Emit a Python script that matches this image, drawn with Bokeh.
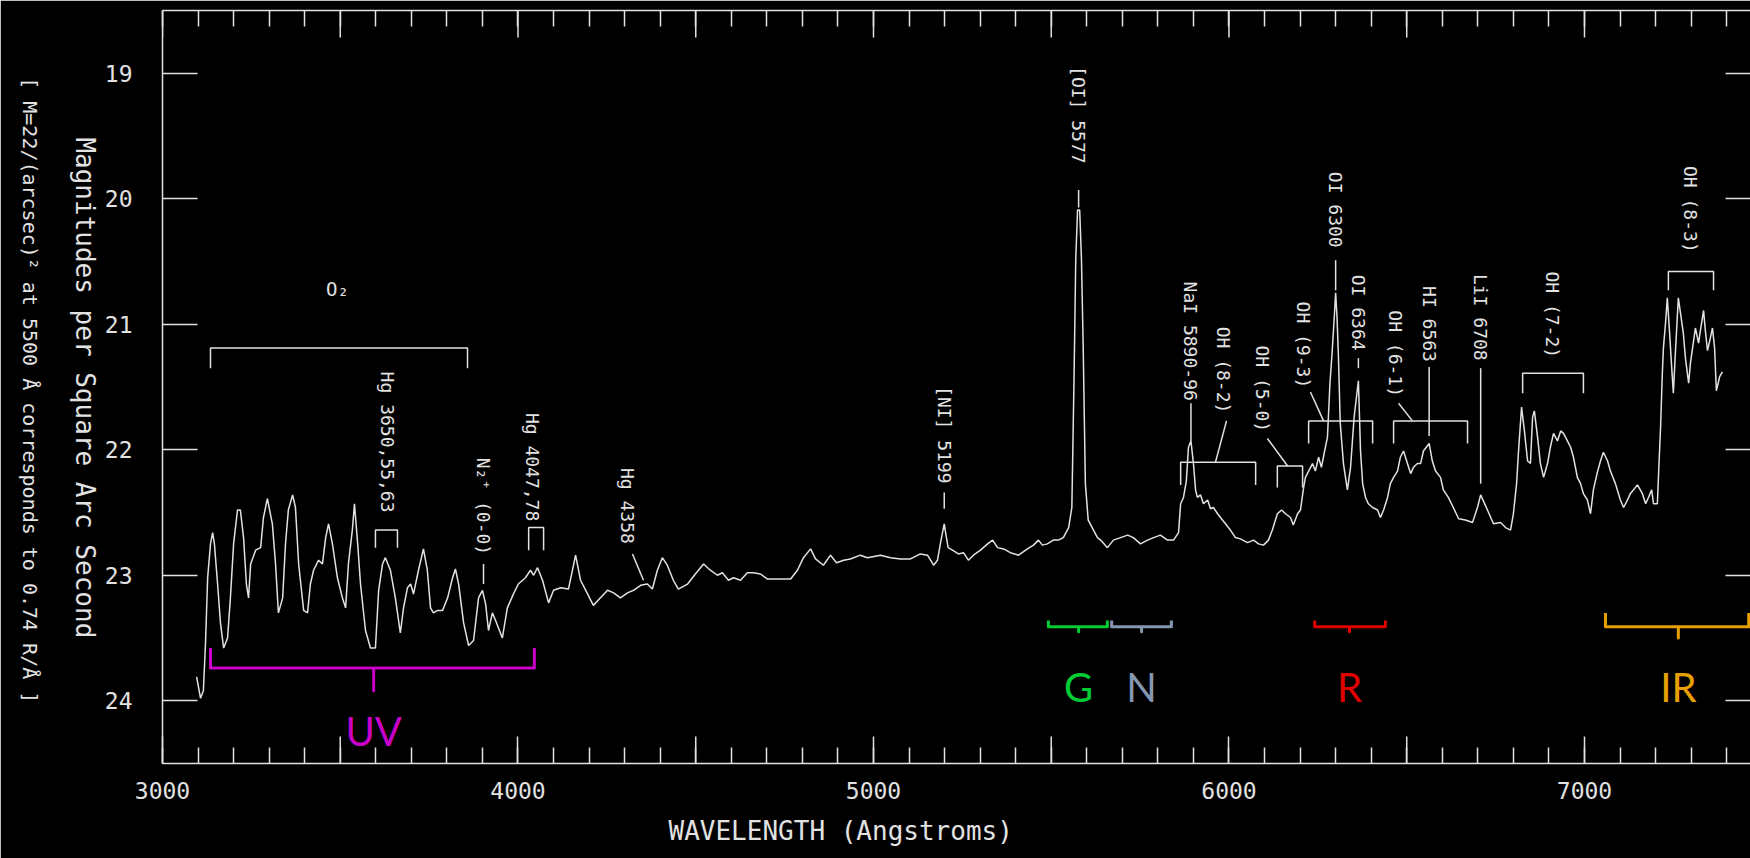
import math
from bokeh.plotting import figure
from bokeh.models import ColumnDataSource, Range1d, LinearAxis, FixedTicker, Title
from bokeh.core.properties import value
from bokeh.embed import file_html
from bokeh.resources import INLINE

# ---- night-sky spectrum: wavelength (Angstrom) and surface brightness (mag / arcsec^2)
WAVELENGTH = [
    3096, 3107, 3115, 3121, 3127, 3135, 3141, 3146, 3155, 3163, 3172, 3183, 3191, 3200,
    3211, 3219, 3228, 3236, 3242, 3248, 3262, 3276, 3284, 3295, 3309, 3318, 3326, 3338,
    3346, 3354, 3366, 3374, 3383, 3397, 3408, 3416, 3425, 3439, 3450, 3459, 3467, 3478,
    3492, 3506, 3515, 3523, 3534, 3540, 3549, 3557, 3571, 3585, 3599, 3608, 3619, 3627,
    3641, 3655, 3669, 3678, 3689, 3698, 3706, 3720, 3734, 3745, 3754, 3762, 3774, 3788,
    3802, 3816, 3824, 3833, 3847, 3861, 3875, 3889, 3900, 3909, 3917, 3928, 3937, 3956,
    3970, 3987, 4001, 4021, 4035, 4044, 4055, 4069, 4086, 4100, 4120, 4142, 4162, 4176,
    4196, 4212, 4232, 4252, 4269, 4288, 4308, 4325, 4345, 4364, 4378, 4392, 4406, 4420,
    4437, 4451, 4477, 4499, 4522, 4541, 4561, 4575, 4592, 4606, 4626, 4645, 4662, 4682,
    4702, 4719, 4738, 4767, 4786, 4803, 4823, 4837, 4859, 4879, 4896, 4916, 4935, 4963,
    4983, 5020, 5048, 5076, 5104, 5132, 5152, 5169, 5180, 5190, 5199, 5204, 5210, 5222,
    5239, 5253, 5267, 5281, 5301, 5321, 5335, 5349, 5366, 5385, 5408, 5433, 5450, 5464,
    5475, 5489, 5506, 5520, 5534, 5549, 5558, 5564, 5569, 5574, 5580, 5585, 5590, 5596,
    5604, 5630, 5639, 5658, 5675, 5695, 5715, 5731, 5751, 5771, 5788, 5807, 5827, 5844,
    5858, 5864, 5872, 5880, 5886, 5893, 5900, 5906, 5911, 5920, 5928, 5940, 5948, 5956,
    5968, 5976, 5990, 6004, 6018, 6032, 6052, 6069, 6083, 6097, 6111, 6122, 6136, 6148,
    6159, 6173, 6181, 6193, 6201, 6210, 6215, 6224, 6235, 6243, 6252, 6260, 6269, 6277,
    6284, 6290, 6296, 6300, 6304, 6308, 6313, 6322, 6333, 6342, 6352, 6364, 6370, 6376,
    6384, 6392, 6404, 6418, 6426, 6435, 6446, 6454, 6463, 6474, 6482, 6491, 6502, 6511,
    6519, 6530, 6539, 6547, 6563, 6572, 6581, 6595, 6603, 6617, 6631, 6646, 6665, 6685,
    6699, 6708, 6727, 6744, 6764, 6778, 6792, 6800, 6809, 6814, 6823, 6831, 6840, 6848,
    6854, 6859, 6868, 6876, 6885, 6896, 6904, 6913, 6924, 6933, 6941, 6952, 6961, 6969,
    6980, 6989, 6997, 7008, 7017, 7025, 7037, 7045, 7053, 7065, 7073, 7087, 7101, 7110,
    7121, 7129, 7149, 7163, 7172, 7180, 7189, 7194, 7205, 7208, 7214, 7219, 7222, 7228,
    7233, 7239, 7245, 7250, 7256, 7264, 7270, 7278, 7284, 7293, 7298, 7307, 7312, 7321,
    7326, 7335, 7340, 7346, 7354, 7360, 7366, 7371, 7380, 7388,
]
MAGNITUDE = [
    23.81, 23.98, 23.92, 23.54, 23.02, 22.75, 22.66, 22.75, 23.07, 23.38, 23.58, 23.50, 23.18, 22.75,
    22.48, 22.48, 22.70, 23.07, 23.18, 22.91, 22.80, 22.78, 22.54, 22.39, 22.59, 22.91, 23.30, 23.18,
    22.75, 22.48, 22.36, 22.46, 22.91, 23.28, 23.30, 23.07, 22.96, 22.88, 22.91, 22.70, 22.59, 22.75,
    23.02, 23.18, 23.26, 22.91, 22.64, 22.43, 22.75, 23.07, 23.44, 23.58, 23.58, 23.12, 22.91, 22.86,
    22.96, 23.18, 23.46, 23.26, 23.10, 23.07, 23.15, 22.96, 22.79, 22.96, 23.26, 23.30, 23.28, 23.28,
    23.18, 23.02, 22.95, 23.07, 23.38, 23.56, 23.52, 23.18, 23.12, 23.23, 23.44, 23.30, 23.36, 23.50,
    23.26, 23.15, 23.07, 23.02, 22.96, 23.00, 22.94, 23.04, 23.22, 23.12, 23.10, 23.11, 22.84, 23.04,
    23.15, 23.24, 23.18, 23.12, 23.14, 23.18, 23.14, 23.12, 23.08, 23.07, 23.11, 22.96, 22.86, 22.92,
    23.04, 23.11, 23.07, 22.99, 22.91, 22.96, 23.00, 22.98, 23.04, 23.02, 23.04, 22.98, 22.98, 22.99,
    23.03, 23.03, 23.03, 23.03, 22.96, 22.86, 22.79, 22.87, 22.92, 22.84, 22.90, 22.88, 22.87, 22.84,
    22.86, 22.84, 22.86, 22.87, 22.87, 22.83, 22.84, 22.92, 22.88, 22.72, 22.59, 22.68, 22.78, 22.80,
    22.83, 22.82, 22.88, 22.84, 22.80, 22.75, 22.72, 22.78, 22.79, 22.82, 22.84, 22.79, 22.76, 22.72,
    22.76, 22.75, 22.72, 22.72, 22.70, 22.62, 22.46, 21.45, 20.48, 20.09, 20.09, 20.48, 21.20, 22.27,
    22.56, 22.70, 22.72, 22.78, 22.72, 22.70, 22.68, 22.70, 22.75, 22.72, 22.70, 22.68, 22.72, 22.72,
    22.66, 22.43, 22.38, 22.25, 21.98, 21.93, 22.11, 22.32, 22.38, 22.36, 22.43, 22.40, 22.47, 22.46,
    22.51, 22.54, 22.59, 22.64, 22.70, 22.71, 22.74, 22.72, 22.75, 22.76, 22.72, 22.64, 22.51, 22.48,
    22.51, 22.54, 22.60, 22.51, 22.48, 22.30, 22.22, 22.17, 22.11, 22.17, 22.06, 22.14, 22.01, 21.90,
    21.47, 21.23, 20.95, 20.75, 20.95, 21.27, 21.79, 22.11, 22.32, 22.14, 21.74, 21.45, 22.01, 22.27,
    22.38, 22.43, 22.46, 22.48, 22.54, 22.48, 22.38, 22.27, 22.22, 22.17, 22.06, 22.01, 22.11, 22.19,
    22.14, 22.11, 22.11, 22.01, 21.95, 22.09, 22.17, 22.22, 22.32, 22.38, 22.46, 22.55, 22.56, 22.58,
    22.46, 22.36, 22.48, 22.59, 22.58, 22.62, 22.64, 22.51, 22.27, 22.03, 21.66, 21.85, 22.09, 22.11,
    21.74, 21.69, 21.90, 22.11, 22.22, 22.11, 21.98, 21.87, 21.93, 21.85, 21.87, 21.93, 21.98, 22.06,
    22.22, 22.27, 22.35, 22.40, 22.51, 22.32, 22.17, 22.09, 22.02, 22.09, 22.17, 22.27, 22.40, 22.46,
    22.40, 22.35, 22.28, 22.35, 22.43, 22.38, 22.32, 22.43, 22.43, 22.22, 21.82, 21.39, 21.19, 20.99,
    20.79, 21.05, 21.33, 21.55, 21.21, 20.79, 20.91, 21.07, 21.27, 21.47, 21.31, 21.13, 21.03, 21.15,
    21.05, 20.89, 21.05, 21.21, 21.11, 21.03, 21.19, 21.53, 21.42, 21.38,
]

# ---- axis ticks
X_LABELLED = [3000, 4000, 5000, 6000, 7000]
X_HALF = [3500, 4500, 5500, 6500]
X_MINOR = list(range(3000, 7500, 100))
Y_TICKS = [19, 20, 21, 22, 23, 24]
LONG_TICK = 0.215          # length of the 500 A ticks, in magnitudes

# ---- line identifications (vertical text, anchored at the lower end of the text)
LINE_NAMES = ["Hg 3650,55,63", "N\u2082\u207a (0-0)", "Hg 4047,78", "Hg 4358", "[NI] 5199",
              "[OI] 5577", "NaI 5890-96", "OH (8-2)", "OH (5-0)", "OH (9-3)", "OI 6300",
              "OI 6364", "OH (6-1)", "HI 6563", "LiI 6708", "OH (7-2)", "OH (8-3)"]
LINE_WAVE = [3633, 3903, 4040, 4308, 5199, 5577, 5893, 5985, 6094, 6210, 6300,
             6364, 6468, 6563, 6708, 6910, 7298]
LINE_TEXT_END = [22.50, 22.84, 22.57, 22.75, 22.27, 19.72, 21.61, 21.71, 21.86, 21.51, 20.39,
                 21.21, 21.58, 21.30, 21.29, 21.27, 20.43]

# short vertical markers under some labels
MARK_WAVE = [3903, 5199, 5577, 5893, 6300, 6364, 6563, 6708]
MARK_FROM = [22.91, 22.34, 19.93, 21.63, 20.49, 21.27, 21.34, 21.35]
MARK_TO = [23.07, 22.47, 20.07, 21.93, 20.73, 21.35, 21.89, 22.27]

# slanted leaders from labels to their brackets
LEADER_W0 = [4322, 5993, 6108, 6229, 6477]
LEADER_M0 = [22.83, 21.77, 21.91, 21.54, 21.63]
LEADER_W1 = [4353, 5962, 6165, 6266, 6516]
LEADER_M1 = [23.04, 22.10, 22.13, 21.77, 21.77]

# band brackets: left, right, bar level, leg end
BRACKET_LEFT = [3135, 3599, 4030, 5864, 6136, 6224, 6463, 6826, 7236]
BRACKET_RIGHT = [3858, 3661, 4072, 6075, 6207, 6404, 6671, 6997, 7363]
BRACKET_BAR = [21.19, 22.64, 22.62, 22.10, 22.13, 21.77, 21.77, 21.39, 20.58]
BRACKET_LEG = [21.35, 22.78, 22.80, 22.28, 22.30, 21.95, 21.95, 21.55, 20.73]
O2_WAVE, O2_MAG = 3492, 20.72

# ---- photometric passbands marked beneath the spectrum
BAND_NAMES = ["UV", "G", "N", "R", "IR"]
BAND_LEFT = [3135, 5492, 5670, 6241, 7059]
BAND_RIGHT = [4046, 5658, 5838, 6440, 7462]
BAND_CENTER = [3594, 5577, 5754, 6339, 7264]
BAND_EDGE = [23.58, 23.36, 23.36, 23.36, 23.30]
BAND_BAR = [23.74, 23.41, 23.41, 23.41, 23.41]
BAND_TIP = [23.92, 23.45, 23.45, 23.45, 23.50]
BAND_TEXT = [24.24, 23.89, 23.89, 23.89, 23.89]
BAND_COLORS = ["#c800c8", "#00cc33", "#8497b0", "#e00000", "#e8a000"]

Y_TITLE = "Magnitudes per Square Arc Second"
Y_NOTE = "[ M=22/(arcsec)\u00b2 at 5500 \u00c5 corresponds to 0.74 R/\u00c5 ]"
X_TITLE = "WAVELENGTH (Angstroms)"

INK = "#e2e2e2"
MONO = "DejaVu Sans Mono"
NBSP = "\u00a0"
Y_LO, Y_HI = 24.5, 18.5

p = figure(width=1750, height=858, x_range=Range1d(3000, 7467), y_range=Range1d(Y_LO, Y_HI),
           output_backend="svg", toolbar_location=None,
           background_fill_color="black", border_fill_color="black",
           min_border_left=162, min_border_right=0, min_border_top=10, min_border_bottom=95)
p.outline_line_color = None
p.grid.visible = False


def read_downward(ax):
    # vertical titles run top-to-bottom, measured up from the lower end of the axis
    props = ax.properties()
    if "axis_label_orientation" in props:
        ax.axis_label_orientation = -math.pi / 2
    if "axis_label_align" in props:
        ax.axis_label_align = "end"


# bottom axis: labelled 1000 A ticks, 100 A minor ticks
xa = p.xaxis[0]
xa.ticker = FixedTicker(ticks=X_LABELLED, minor_ticks=X_MINOR)
xa.axis_line_color = INK
xa.axis_line_width = 1.5
xa.major_tick_line_color = INK
xa.minor_tick_line_color = INK
xa.major_tick_line_width = 1.5
xa.minor_tick_line_width = 1.5
xa.major_tick_in, xa.major_tick_out = 27, 0
xa.minor_tick_in, xa.minor_tick_out = 16, 0
xa.major_label_text_font = MONO
xa.major_label_text_font_size = "23px"
xa.major_label_text_color = INK
xa.major_label_standoff = 18

# left axis with the first title line
ya = p.yaxis[0]
ya.ticker = FixedTicker(ticks=Y_TICKS, minor_ticks=[])
ya.axis_line_color = INK
ya.axis_line_width = 1.5
ya.major_tick_line_color = INK
ya.major_tick_line_width = 1.5
ya.major_tick_in, ya.major_tick_out = 35, 0
ya.minor_tick_line_color = None
ya.major_label_text_font = MONO
ya.major_label_text_font_size = "23px"
ya.major_label_text_color = INK
ya.major_label_standoff = 30
ya.axis_label = Y_TITLE + NBSP * 8
ya.axis_label_text_font = MONO
ya.axis_label_text_font_size = "26px"
ya.axis_label_text_font_style = "normal"
ya.axis_label_text_color = INK
ya.axis_label_standoff = 17
read_downward(ya)

# outer, tick-less left axis carrying the calibration note
note = LinearAxis(ticker=FixedTicker(ticks=[], minor_ticks=[]))
note.axis_line_color = None
note.major_tick_line_color = None
note.minor_tick_line_color = None
note.major_label_standoff = 0
note.axis_label = Y_NOTE + NBSP * 5
note.axis_label_text_font = MONO
note.axis_label_text_font_size = "20px"
note.axis_label_text_font_style = "normal"
note.axis_label_text_color = INK
note.axis_label_standoff = 22
read_downward(note)
p.add_layout(note, "left")

# top axis: frame line and 100 A ticks (no labels)
top = LinearAxis(ticker=FixedTicker(ticks=[], minor_ticks=X_MINOR))
top.axis_line_color = INK
top.axis_line_width = 1.5
top.minor_tick_line_color = INK
top.minor_tick_line_width = 1.5
top.minor_tick_in, top.minor_tick_out = 16, 0
top.major_label_standoff = 0
p.add_layout(top, "above")

# right side: magnitude ticks only
right = LinearAxis(ticker=FixedTicker(ticks=[], minor_ticks=Y_TICKS))
right.axis_line_color = None
right.minor_tick_line_color = INK
right.minor_tick_line_width = 1.5
right.minor_tick_in, right.minor_tick_out = 25, 0
right.major_label_standoff = 0
p.add_layout(right, "right")

# longer 500 A ticks along the top and bottom edges
top_long = X_LABELLED + X_HALF
p.segment(top_long, [Y_HI] * len(top_long), top_long, [Y_HI + LONG_TICK] * len(top_long),
          line_color=INK, line_width=1.5)
p.segment(X_HALF, [Y_LO] * len(X_HALF), X_HALF, [Y_LO - LONG_TICK] * len(X_HALF),
          line_color=INK, line_width=1.5)

# spectrum
p.line(WAVELENGTH, MAGNITUDE, line_color=INK, line_width=1.5)

# brackets, markers and leaders
bx = [[l, l, r, r] for l, r in zip(BRACKET_LEFT, BRACKET_RIGHT)]
by = [[g, b, b, g] for b, g in zip(BRACKET_BAR, BRACKET_LEG)]
p.multi_line(bx, by, line_color=INK, line_width=1.5)
p.segment(MARK_WAVE, MARK_FROM, MARK_WAVE, MARK_TO, line_color=INK, line_width=1.5)
p.segment(LEADER_W0, LEADER_M0, LEADER_W1, LEADER_M1, line_color=INK, line_width=1.5)

labels = ColumnDataSource(dict(x=LINE_WAVE, y=LINE_TEXT_END, text=LINE_NAMES))
p.text("x", "y", "text", source=labels, angle=-math.pi / 2, text_align="right",
       text_baseline="middle", text_font=value(MONO), text_font_size="18px", text_color=INK)
p.text([O2_WAVE], [O2_MAG], ["O\u2082"], text_align="center", text_baseline="middle",
       text_font=value(MONO), text_font_size="19px", text_color=INK)

# passband braces
for name, l, r, c, e, b, t, ty, col in zip(BAND_NAMES, BAND_LEFT, BAND_RIGHT, BAND_CENTER,
                                           BAND_EDGE, BAND_BAR, BAND_TIP, BAND_TEXT, BAND_COLORS):
    p.line([l, l, c, c, c, r, r], [e, b, b, t, b, b, e], line_color=col, line_width=3,
           line_join="round")
    p.text([c], [ty], [name], text_align="center", text_baseline="middle",
           text_font=value("Lato"), text_font_size="40px", text_color=col)

# x-axis title
xtitle = Title(text=X_TITLE, align="left", offset=506, standoff=24,
               text_font=MONO, text_font_size="26px", text_font_style="normal",
               text_color=INK)
if "text_line_height" in xtitle.properties():
    xtitle.text_line_height = 1.0
p.add_layout(xtitle, "below")

open("out.html", "w").write(file_html(p, INLINE))
